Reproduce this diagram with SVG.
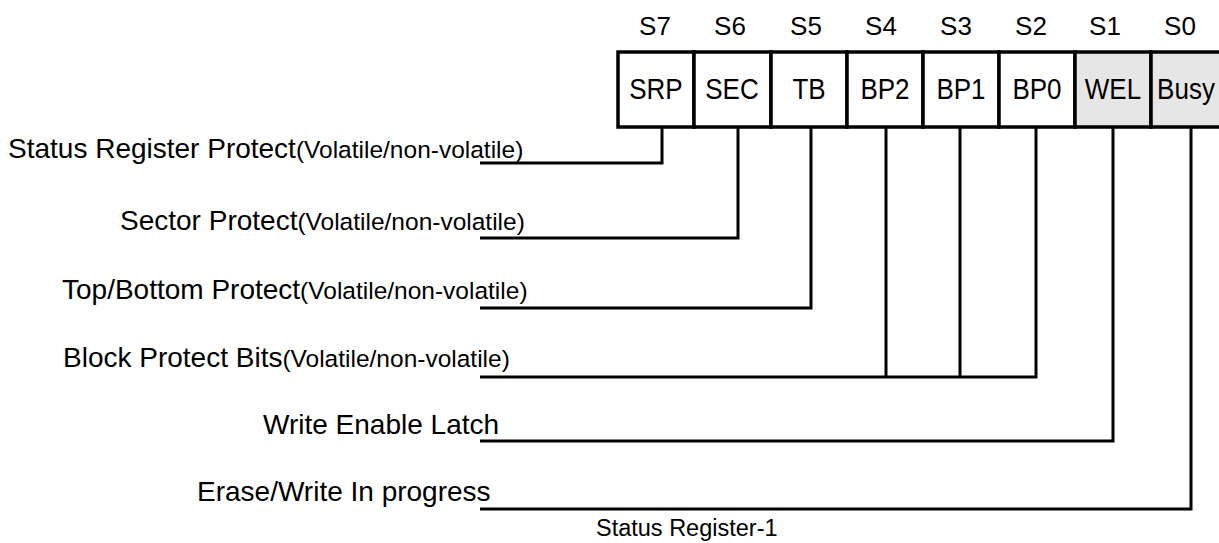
<svg xmlns="http://www.w3.org/2000/svg" width="1219" height="543" viewBox="0 0 1219 543">
<style>
text{font-family:"Liberation Sans",Arial,sans-serif;fill:#000}
.hdr{font-size:26px;text-anchor:middle}
.cell{font-size:26px;text-anchor:middle}
.lbl{font-size:28px}
.sm{font-size:24.5px}
.cap{font-size:23.5px}
.box{stroke:#000;stroke-width:3.5;fill:#fff}
.grey{fill:#e6e6e6}
.wire{stroke:#000;stroke-width:3;fill:none}
</style>
<rect width="1219" height="543" fill="#fff"/>
<g id="header">
<text class="hdr" x="655" y="35">S7</text>
<text class="hdr" x="730" y="35">S6</text>
<text class="hdr" x="806" y="35">S5</text>
<text class="hdr" x="881" y="35">S4</text>
<text class="hdr" x="956" y="35">S3</text>
<text class="hdr" x="1031" y="35">S2</text>
<text class="hdr" x="1105" y="35">S1</text>
<text class="hdr" x="1180" y="35">S0</text>
</g>
<g id="register">
<rect class="box" x="618" y="52" width="76" height="75"/>
<rect class="box" x="694" y="52" width="77" height="75"/>
<rect class="box" x="771" y="52" width="76" height="75"/>
<rect class="box" x="847" y="52" width="76" height="75"/>
<rect class="box" x="923" y="52" width="76" height="75"/>
<rect class="box" x="999" y="52" width="76" height="75"/>
<rect class="box grey" x="1075" y="52" width="76" height="75"/>
<rect class="box grey" x="1151" y="52" width="70" height="75"/>
<g transform="translate(0,99) scale(1,1.12)">
<text class="cell" x="656" y="0">SRP</text>
<text class="cell" x="732" y="0">SEC</text>
<text class="cell" x="809" y="0">TB</text>
<text class="cell" x="885" y="0">BP2</text>
<text class="cell" x="961" y="0">BP1</text>
<text class="cell" x="1037" y="0">BP0</text>
<text class="cell" x="1113" y="0">WEL</text>
<text class="cell" x="1186" y="0">Busy</text>
</g>
</g>
<g id="connectors">
<polyline class="wire" points="662,127 662,163 480,163"/>
<polyline class="wire" points="738,127 738,238 480,238"/>
<polyline class="wire" points="811,127 811,308 480,308"/>
<polyline class="wire" points="1036,127 1036,377 480,377"/>
<line class="wire" x1="886" y1="127" x2="886" y2="377"/>
<line class="wire" x1="960" y1="127" x2="960" y2="377"/>
<polyline class="wire" points="1113,127 1113,441 480,441"/>
<polyline class="wire" points="1191,127 1191,509 480,509"/>
</g>
<g id="label-srp"><text class="lbl" x="8" y="158">Status Register Protect<tspan class="sm">(Volatile/non-volatile)</tspan></text></g>
<g id="label-sec"><text class="lbl" x="120" y="230">Sector Protect<tspan class="sm">(Volatile/non-volatile)</tspan></text></g>
<g id="label-tb"><text class="lbl" x="62" y="299">Top/Bottom Protect<tspan class="sm">(Volatile/non-volatile)</tspan></text></g>
<g id="label-bp"><text class="lbl" x="63" y="367">Block Protect Bits<tspan class="sm">(Volatile/non-volatile)</tspan></text></g>
<g id="label-wel"><text class="lbl" x="263" y="434">Write Enable Latch</text></g>
<g id="label-busy"><text class="lbl" x="197" y="501">Erase/Write In progress</text></g>
<g id="caption"><text class="cap" x="596" y="536">Status Register-1</text></g>
</svg>
